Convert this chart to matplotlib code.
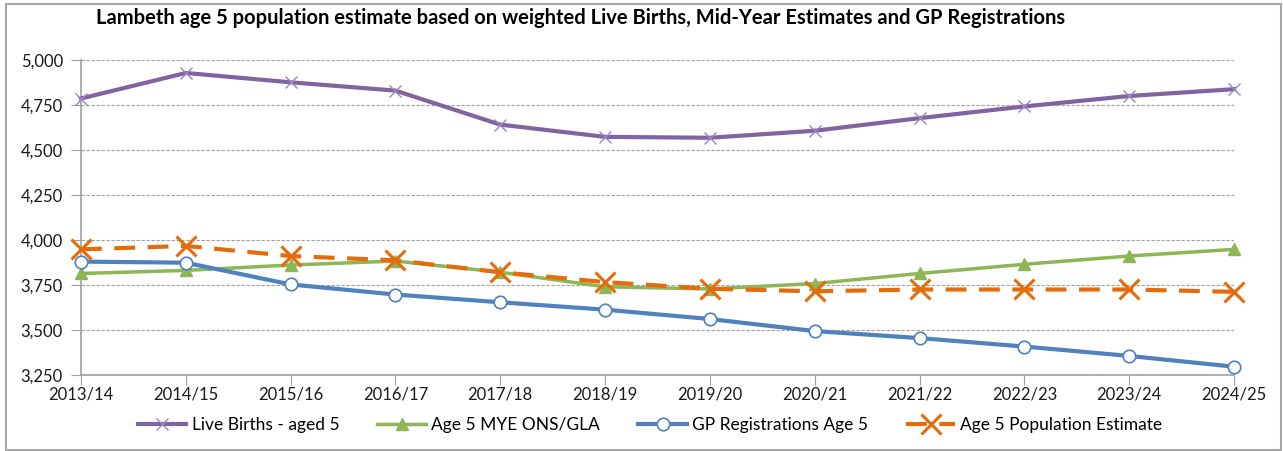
import matplotlib.pyplot as plt
from matplotlib.patches import Rectangle
from matplotlib.ticker import FuncFormatter

plt.rcParams['font.family'] = ['Lato', 'DejaVu Sans']

years = ['2013/14', '2014/15', '2015/16', '2016/17', '2017/18', '2018/19',
         '2019/20', '2020/21', '2021/22', '2022/23', '2023/24', '2024/25']

live_births = [4786, 4928, 4876, 4830, 4641, 4573, 4568, 4607, 4677, 4742, 4800, 4838]
mye_ons_gla = [3814, 3831, 3861, 3883, 3821, 3740, 3728, 3758, 3814, 3865, 3911, 3948]
gp_registrations = [3880, 3874, 3753, 3697, 3654, 3613, 3561, 3494, 3455, 3408, 3356, 3296]
population_estimate = [3948, 3967, 3911, 3887, 3821, 3766, 3729, 3715, 3725, 3725, 3725, 3712]

yticks = [3250, 3500, 3750, 4000, 4250, 4500, 4750, 5000]

W, H = 1283, 451
fig = plt.figure(figsize=(W / 100, H / 100), dpi=100)
ax = fig.add_axes([81 / W, 1 - 375 / H, (1234 - 81) / W, (375 - 60) / H])

x = list(range(len(years)))

ax.plot(x, live_births, color='#8064A2', linewidth=3, marker='x', markersize=9,
        markeredgewidth=1, markeredgecolor='#9A85C0', label='Live Births - aged 5',
        clip_on=False, zorder=4)
ax.plot(x, mye_ons_gla, color='#8DB654', linewidth=2.5, marker='^', markersize=9,
        label='Age 5 MYE ONS/GLA', clip_on=False, zorder=3)
ax.plot(x, gp_registrations, color='#4F81BD', linewidth=3, marker='o', markersize=9,
        markerfacecolor='white', markeredgecolor='#4F81BD', markeredgewidth=1.2,
        label='GP Registrations Age 5', clip_on=False, zorder=5)
ax.plot(x, population_estimate, color='#E46C0A', linewidth=3, linestyle=(0, (5, 3)),
        marker='x', markersize=14, markeredgewidth=2.2,
        label='Age 5 Population Estimate', clip_on=False, zorder=6)

ax.set_xlim(0, len(years) - 1)
ax.set_ylim(3250, 5000)
ax.set_xticks(x)
ax.set_xticklabels(years, fontsize=12, color='#1A1A1A')
ax.set_yticks(yticks)
ax.yaxis.set_major_formatter(FuncFormatter(lambda v, p: f'{int(v):,}'))
ax.tick_params(axis='y', labelsize=12, labelcolor='#1A1A1A', length=7, color='#A0A0A0', pad=6)
ax.tick_params(axis='x', length=7, color='#A0A0A0', pad=1)

ax.grid(True, axis='y', color='#A0A0A0', linestyle=(0, (3, 1.5)), linewidth=0.8)
ax.set_axisbelow(True)
for side in ['top', 'right']:
    ax.spines[side].set_visible(False)
for side in ['left', 'bottom']:
    ax.spines[side].set_color('#A0A0A0')
    ax.spines[side].set_linewidth(1.2)

fig.text(581 / W, 1 - 18 / H,
         'Lambeth age 5 population estimate based on weighted Live Births, Mid-Year Estimates and GP Registrations',
         ha='center', va='center', fontsize=14.5, fontweight='bold')

ax.legend(loc='center', bbox_to_anchor=(650 / W, 1 - 425 / H), bbox_transform=fig.transFigure,
          ncol=4, frameon=False, fontsize=12.5, handlelength=2.8, columnspacing=2.2,
          handletextpad=0.3)

fig.patches.append(Rectangle((6 / W, 1 / H), (W - 8) / W, (H - 5) / H, transform=fig.transFigure,
                             fill=False, edgecolor='#A6A6A6', linewidth=1.5))

fig.savefig('out.png', dpi=100)
